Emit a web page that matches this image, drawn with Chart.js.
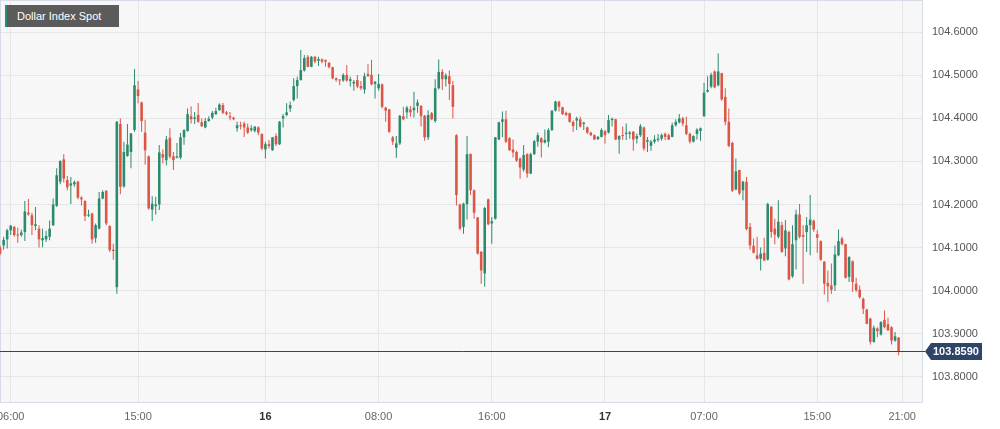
<!DOCTYPE html>
<html>
<head>
    <title>Dollar Index Spot</title>
    <script src="https://cdn.jsdelivr.net/npm/chart.js"></script>
    <style>
        body { margin: 0; background: #fff; }
        #wrap { position: relative; width: 1000px; height: 429px; }
        #title {
            position: absolute; left: 5px; top: 5px; width: 102px; height: 22px;
            background: #5b5b5b; border-left: 2px solid #2b8b6e; color: #fff;
            font: 11px 'Liberation Sans', Arial, sans-serif; line-height: 22px;
            padding-left: 10px; z-index: 2;
        }
    </style>
</head>
<body>
<div id="wrap">
    <div id="title">Dollar Index Spot</div>
    <canvas id="myChart" width="1000" height="429"></canvas>
</div>
<script>
    // 15 minute candles, first one at 05:15 on the 15th (hours counted from 15th 00:00)
    const startHour = 5.25;
    const stepHours = 0.25;

    const open = [
        104.100,104.105,104.119,104.140,104.148,104.130,104.129,104.136,104.181,104.175,
        104.150,104.144,104.117,104.119,104.125,104.152,104.197,104.253,104.305,104.257,
        104.244,104.247,104.253,104.216,104.208,104.174,104.179,104.122,104.144,104.214,
        104.232,104.150,104.095,104.008,104.387,104.242,104.313,104.322,104.373,104.467,
        104.437,104.367,104.312,104.188,104.196,104.200,104.317,104.303,104.355,104.312,
        104.309,104.309,104.356,104.371,104.405,104.399,104.408,104.391,104.379,104.394,
        104.402,104.410,104.419,104.431,104.414,104.405,104.402,104.377,104.384,104.388,
        104.379,104.373,104.371,104.379,104.364,104.328,104.340,104.326,104.359,104.340,
        104.400,104.408,104.423,104.443,104.475,104.489,104.511,104.543,104.520,104.543,
        104.534,104.537,104.536,104.529,104.519,104.493,104.489,104.488,104.501,104.487,
        104.481,104.489,104.475,104.467,104.503,104.501,104.480,104.470,104.479,104.425,
        104.421,104.356,104.332,104.342,104.405,104.414,104.421,104.419,104.429,104.429,
        104.406,104.356,104.412,104.394,104.470,104.508,104.491,104.498,104.477,104.361,
        104.200,104.148,104.201,104.317,104.233,104.170,104.090,104.040,104.212,104.156,
        104.167,104.351,104.392,104.398,104.354,104.328,104.322,104.307,104.281,104.317,
        104.272,104.317,104.346,104.354,104.344,104.346,104.373,104.418,104.439,104.426,
        104.413,104.412,104.392,104.395,104.398,104.387,104.379,104.367,104.361,104.352,
        104.357,104.370,104.367,104.396,104.398,104.351,104.361,104.364,104.364,104.369,
        104.353,104.361,104.379,104.346,104.336,104.346,104.350,104.353,104.364,104.361,
        104.357,104.384,104.391,104.400,104.384,104.364,104.346,104.364,104.371,104.405,
        104.462,104.474,104.509,104.477,104.505,104.450,104.392,104.343,104.235,104.280,
        104.233,104.253,104.148,104.104,104.082,104.074,104.088,104.072,104.195,104.144,
        104.125,104.152,104.098,104.136,104.033,104.117,104.177,104.129,104.136,104.152,
        104.162,104.131,104.115,104.067,104.018,104.012,104.012,104.082,104.121,104.108,
        104.032,104.068,104.016,104.002,103.981,103.956,103.935,103.881,103.912,103.898,
        103.932,103.922,103.915,103.884,103.891
    ];
    const high = [
        104.105,104.125,104.144,104.152,104.150,104.146,104.142,104.208,104.213,104.181,
        104.194,104.152,104.144,104.139,104.163,104.214,104.284,104.303,104.317,104.266,
        104.264,104.256,104.255,104.219,104.210,104.188,104.181,104.156,104.229,104.233,
        104.233,104.152,104.109,104.394,104.400,104.346,104.387,104.366,104.515,104.487,
        104.439,104.397,104.314,104.219,104.218,104.338,104.328,104.359,104.377,104.322,
        104.343,104.366,104.375,104.423,104.428,104.415,104.436,104.400,104.401,104.405,
        104.417,104.425,104.435,104.436,104.417,104.415,104.404,104.392,104.392,104.392,
        104.388,104.384,104.382,104.382,104.365,104.346,104.350,104.357,104.365,104.394,
        104.410,104.435,104.439,104.493,104.497,104.559,104.547,104.547,104.545,104.545,
        104.543,104.540,104.536,104.531,104.520,104.495,104.491,104.505,104.524,104.497,
        104.489,104.501,104.487,104.506,104.526,104.536,104.487,104.503,104.481,104.427,
        104.422,104.359,104.359,104.408,104.427,104.429,104.429,104.462,104.444,104.431,
        104.408,104.419,104.415,104.491,104.537,104.514,104.505,104.511,104.487,104.363,
        104.202,104.204,104.359,104.319,104.235,104.171,104.092,104.195,104.214,104.171,
        104.357,104.392,104.416,104.418,104.356,104.351,104.325,104.309,104.338,104.319,
        104.320,104.350,104.367,104.356,104.374,104.377,104.419,104.441,104.441,104.427,
        104.416,104.413,104.395,104.404,104.404,104.392,104.381,104.369,104.363,104.359,
        104.377,104.373,104.408,104.402,104.399,104.361,104.381,104.388,104.371,104.371,
        104.365,104.387,104.381,104.357,104.350,104.361,104.364,104.365,104.367,104.365,
        104.390,104.398,104.410,104.404,104.404,104.367,104.361,104.377,104.379,104.483,
        104.498,104.506,104.511,104.551,104.506,104.470,104.423,104.346,104.307,104.281,
        104.255,104.264,104.157,104.121,104.125,104.100,104.123,104.204,104.196,104.167,
        104.210,104.160,104.164,104.139,104.152,104.188,104.201,104.152,104.171,104.222,
        104.165,104.140,104.117,104.069,104.047,104.063,104.105,104.142,104.125,104.109,
        104.080,104.070,104.030,104.012,103.984,103.958,103.937,103.919,103.915,103.929,
        103.954,103.937,103.917,103.904,103.892
    ];
    const low = [
        104.082,104.095,104.098,104.129,104.125,104.111,104.125,104.115,104.174,104.129,
        104.140,104.100,104.101,104.113,104.117,104.150,104.194,104.247,104.251,104.233,
        104.201,104.241,104.212,104.198,104.162,104.171,104.109,104.111,104.142,104.212,
        104.152,104.090,104.072,103.993,104.224,104.239,104.311,104.284,104.369,104.435,
        104.369,104.293,104.188,104.162,104.177,104.187,104.295,104.291,104.307,104.280,
        104.307,104.305,104.339,104.369,104.388,104.387,104.390,104.380,104.377,104.392,
        104.398,104.408,104.418,104.410,104.407,104.396,104.396,104.369,104.374,104.357,
        104.364,104.369,104.367,104.361,104.326,104.307,104.330,104.325,104.336,104.338,
        104.379,104.405,104.415,104.439,104.446,104.488,104.509,104.519,104.519,104.528,
        104.522,104.528,104.520,104.516,104.491,104.485,104.477,104.485,104.485,104.474,
        104.464,104.470,104.466,104.457,104.497,104.477,104.446,104.464,104.423,104.392,
        104.366,104.338,104.308,104.338,104.396,104.400,104.404,104.402,104.413,104.381,
        104.348,104.350,104.396,104.390,104.467,104.466,104.474,104.443,104.400,104.198,
        104.140,104.132,104.165,104.222,104.167,104.084,104.016,104.009,104.152,104.109,
        104.165,104.350,104.357,104.343,104.325,104.309,104.299,104.260,104.276,104.262,
        104.271,104.315,104.334,104.309,104.342,104.333,104.371,104.416,104.416,104.408,
        104.405,104.390,104.369,104.373,104.379,104.373,104.364,104.359,104.350,104.350,
        104.356,104.342,104.365,104.381,104.350,104.318,104.350,104.350,104.353,104.325,
        104.342,104.357,104.325,104.322,104.325,104.342,104.346,104.348,104.350,104.350,
        104.356,104.381,104.388,104.382,104.361,104.342,104.344,104.351,104.348,104.404,
        104.460,104.470,104.470,104.474,104.441,104.384,104.333,104.229,104.233,104.222,
        104.210,104.140,104.095,104.086,104.072,104.047,104.069,104.070,104.123,104.108,
        104.121,104.088,104.080,104.024,104.030,104.049,104.121,104.016,104.090,104.082,
        104.137,104.088,104.069,103.991,103.974,103.993,103.999,104.080,104.105,104.028,
        104.020,103.997,103.997,103.981,103.946,103.922,103.875,103.879,103.892,103.896,
        103.912,103.906,103.875,103.881,103.850
    ];
    const close = [
        104.086,104.118,104.140,104.151,104.129,104.128,104.135,104.184,104.177,104.152,
        104.154,104.119,104.122,104.127,104.144,104.200,104.268,104.301,104.260,104.240,
        104.249,104.252,104.216,104.212,104.173,104.176,104.119,104.152,104.214,104.229,
        104.156,104.094,104.092,104.392,104.241,104.322,104.339,104.365,104.477,104.452,
        104.394,104.326,104.191,104.202,104.200,104.321,104.309,104.351,104.311,104.303,
        104.312,104.356,104.373,104.410,104.398,104.402,104.392,104.382,104.394,104.399,
        104.413,104.417,104.432,104.413,104.410,104.402,104.398,104.384,104.382,104.379,
        104.367,104.377,104.381,104.367,104.330,104.340,104.336,104.356,104.340,104.392,
        104.405,104.414,104.431,104.475,104.489,104.512,104.540,104.520,104.543,104.532,
        104.538,104.532,104.532,104.519,104.493,104.489,104.488,104.501,104.488,104.491,
        104.485,104.474,104.470,104.498,104.498,104.479,104.485,104.480,104.427,104.418,
        104.369,104.346,104.342,104.406,104.398,104.425,104.414,104.425,104.437,104.405,
        104.356,104.408,104.398,104.470,104.508,104.491,104.500,104.480,104.427,104.222,
        104.144,104.202,104.317,104.233,104.181,104.086,104.047,104.192,104.154,104.161,
        104.356,104.391,104.398,104.346,104.326,104.321,104.302,104.286,104.315,104.272,
        104.317,104.347,104.361,104.344,104.350,104.373,104.418,104.439,104.427,104.410,
        104.408,104.392,104.382,104.400,104.381,104.390,104.367,104.361,104.351,104.357,
        104.373,104.361,104.396,104.399,104.351,104.359,104.359,104.367,104.367,104.351,
        104.359,104.382,104.330,104.350,104.346,104.351,104.353,104.361,104.357,104.351,
        104.384,104.392,104.400,104.388,104.364,104.346,104.359,104.374,104.377,104.460,
        104.466,104.501,104.472,104.509,104.444,104.392,104.336,104.232,104.277,104.226,
        104.253,104.143,104.105,104.088,104.074,104.086,104.070,104.201,104.136,104.130,
        104.160,104.090,104.140,104.026,104.108,104.177,104.125,104.125,104.152,104.165,
        104.142,104.123,104.072,104.016,104.010,104.002,104.084,104.115,104.108,104.030,
        104.078,104.020,104.001,103.985,103.958,103.923,103.881,103.914,103.906,103.927,
        103.915,103.908,103.884,103.894,103.859
    ];

    // axis ticks
    const xTickHours = [6, 15, 24, 32, 40, 48, 55, 63, 69];
    const xTickLabels = ['06:00', '15:00', '16', '08:00', '16:00', '17', '07:00', '15:00', '21:00'];
    const yTicks = [103.8, 103.9, 104.0, 104.1, 104.2, 104.3, 104.4, 104.5, 104.6];

    const times = open.map((_, i) => startHour + i * stepHours);

    const upColor = '#2b8b6e';
    const downColor = '#dc5646';
    const tagColor = '#2d4668';
    const fontFamily = "'Liberation Sans', Arial, sans-serif";

    const colors = open.map((o, i) => close[i] >= o ? upColor : downColor);
    const wicks = times.map((t, i) => ({ x: t, y: [low[i], high[i]] }));
    const bodies = times.map((t, i) => ({ x: t, y: [open[i], close[i]] }));

    // day labels are bold
    const isDay = (i) => !!xTickLabels[i] && xTickLabels[i].indexOf(':') < 0;

    // plot background, border and last price marker
    const plotDeco = {
        id: 'plotDeco',
        beforeDraw(chart) {
            const a = chart.chartArea;
            const c = chart.ctx;
            c.save();
            c.fillStyle = '#f7f7f7';
            c.fillRect(a.left, a.top, a.right - a.left, a.bottom - a.top);
            c.restore();
        },
        beforeDatasetsDraw(chart) {
            const a = chart.chartArea;
            const c = chart.ctx;
            c.save();
            c.strokeStyle = '#d6dce6';
            c.lineWidth = 1;
            c.strokeRect(a.left + 0.5, a.top + 0.5, a.right - a.left - 1, a.bottom - a.top - 1);
            c.restore();
        },
        afterDraw(chart) {
            const a = chart.chartArea;
            const c = chart.ctx;
            const last = close[close.length - 1];
            const y = Math.round(chart.scales.y.getPixelForValue(last)) + 0.5;
            c.save();
            c.strokeStyle = tagColor;
            c.lineWidth = 1;
            c.beginPath();
            c.moveTo(a.left, y);
            c.lineTo(a.right + 2, y);
            c.stroke();

            c.fillStyle = tagColor;
            c.beginPath();
            c.moveTo(a.right + 2, y);
            c.lineTo(a.right + 8, y - 8.5);
            c.lineTo(a.right + 59, y - 8.5);
            c.lineTo(a.right + 59, y + 8.5);
            c.lineTo(a.right + 8, y + 8.5);
            c.closePath();
            c.fill();

            c.fillStyle = '#ffffff';
            c.font = 'bold 11px ' + fontFamily;
            c.textAlign = 'left';
            c.textBaseline = 'middle';
            c.fillText(last.toFixed(4), a.right + 10, y + 0.5);
            c.restore();
        }
    };

    const ctx = document.getElementById('myChart').getContext('2d');
    const myChart = new Chart(ctx, {
        type: 'bar',
        data: {
            datasets: [{
                label: 'wick',
                data: wicks,
                backgroundColor: colors,
                barThickness: 1,
                grouped: false,
                inflateAmount: 0
            }, {
                label: 'body',
                data: bodies,
                backgroundColor: colors,
                barThickness: 2.6,
                minBarLength: 1,
                grouped: false,
                inflateAmount: 0
            }]
        },
        options: {
            responsive: false,
            animation: false,
            layout: { padding: 0 },
            plugins: {
                legend: { display: false },
                tooltip: { enabled: false }
            },
            scales: {
                x: {
                    type: 'linear',
                    position: 'bottom',
                    min: 5.244,
                    max: 70.474,
                    offset: false,
                    grid: { color: '#e6e6e6', drawTicks: false, offset: false },
                    border: { display: false },
                    ticks: {
                        autoSkip: false,
                        maxRotation: 0,
                        padding: 7,
                        color: (c) => isDay(c.index) ? '#333' : '#666',
                        font: (c) => ({
                            family: fontFamily,
                            size: 11,
                            weight: isDay(c.index) ? 'bold' : 'normal'
                        }),
                        callback: (value, index) => xTickLabels[index]
                    },
                    afterBuildTicks: (scale) => {
                        scale.ticks = xTickHours.map(v => ({ value: v }));
                    },
                    afterFit: (scale) => {
                        scale.height = 26;
                        scale.paddingLeft = 0;
                        scale.paddingRight = 0;
                    }
                },
                y: {
                    type: 'linear',
                    position: 'right',
                    min: 103.739,
                    max: 104.675,
                    grid: { color: '#e6e6e6', drawTicks: false },
                    border: { display: false },
                    ticks: {
                        padding: 9,
                        color: '#555',
                        font: { family: fontFamily, size: 11 },
                        callback: (value) => Number(value).toFixed(4)
                    },
                    afterBuildTicks: (scale) => {
                        scale.ticks = yTicks.map(v => ({ value: v }));
                    },
                    afterFit: (scale) => {
                        scale.width = 77;
                        scale.paddingTop = 0;
                        scale.paddingBottom = 0;
                    }
                }
            }
        },
        plugins: [plotDeco]
    });
</script>
</body>
</html>
